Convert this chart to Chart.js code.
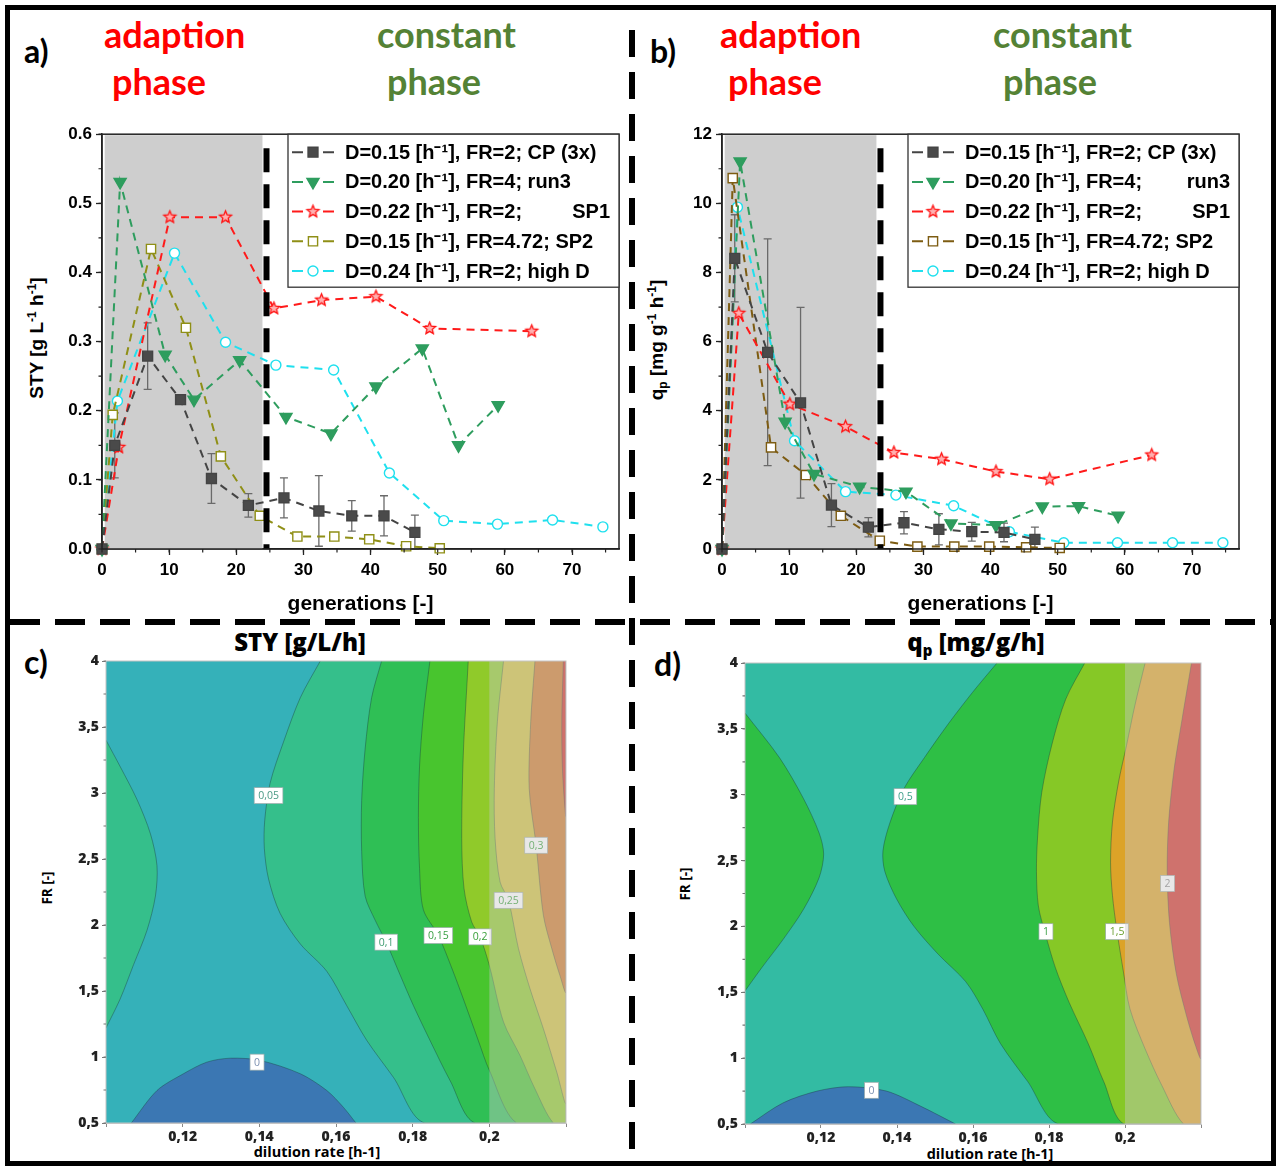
<!DOCTYPE html>
<html><head><meta charset="utf-8">
<script src="https://cdn.jsdelivr.net/npm/chart.js@4.4.1/dist/chart.umd.min.js"></script>
<style>
html,body{margin:0;padding:0;background:#fff}
body{width:1280px;height:1169px;position:relative;overflow:hidden}
.frame{position:absolute;left:5px;top:5px;width:1271px;height:1161px;border:5px solid #000;box-sizing:border-box}
.vdash{position:absolute;left:629px;top:30px;width:6px;height:1133px;background:repeating-linear-gradient(to bottom,#000 0 27px,transparent 27px 42px)}
.hdash{position:absolute;left:10px;top:619px;width:1262px;height:6px;background:repeating-linear-gradient(to right,#000 0 30px,transparent 30px 45px)}
.t{position:absolute;font-family:Lato,"Open Sans",sans-serif;font-weight:700;line-height:1;white-space:nowrap}
.red{color:#ff0000;font-size:36px}
.grn{color:#548235;font-size:36px}
.lab{color:#000;font-size:32px}
.rot{position:absolute;white-space:nowrap;transform:translate(-50%,-50%) rotate(-90deg);font-weight:700;line-height:1}
.ax{font-family:"Liberation Sans",Arial,sans-serif;font-size:19px;color:#000}
.ax sup{font-size:12px;vertical-align:7px}
.ax sub{font-size:12px;vertical-align:-4px}
.ct{position:absolute;font-family:"Open Sans",sans-serif;font-weight:800;font-size:24px;line-height:1;white-space:nowrap;transform:translateX(-50%)}
.ct sub{font-size:15px;vertical-align:-5px}
.cx{position:absolute;font-family:"Open Sans",sans-serif;font-weight:700;font-size:14.5px;line-height:1;white-space:nowrap;transform:translate(-50%,-50%)}
.cy{font-family:"Open Sans",sans-serif;font-size:13.5px}
canvas{position:absolute}
</style>
</head><body>
<div class="frame"></div>
<div class="vdash"></div>
<div class="hdash"></div>

<div class="t lab" style="left:24px;top:35px">a)</div>
<div class="t red" style="left:104px;top:16px">adaption</div>
<div class="t red" style="left:112px;top:63px">phase</div>
<div class="t grn" style="left:377px;top:16px">constant</div>
<div class="t grn" style="left:387px;top:63px">phase</div>

<div class="t lab" style="left:650px;top:35px">b)</div>
<div class="t red" style="left:720px;top:16px">adaption</div>
<div class="t red" style="left:728px;top:63px">phase</div>
<div class="t grn" style="left:993px;top:16px">constant</div>
<div class="t grn" style="left:1003px;top:63px">phase</div>

<div class="t lab" style="left:24px;top:646px">c)</div>
<div class="t lab" style="left:654px;top:648px">d)</div>

<div class="ct" style="left:300px;top:630px">STY [g/L/h]</div>
<div class="ct" style="left:976px;top:630px">q<sub>p</sub> [mg/g/h]</div>

<div class="rot ax" style="left:36px;top:338px">STY [g L<sup>-1</sup> h<sup>-1</sup>]</div>
<div class="rot ax" style="left:657px;top:340px">q<sub>p</sub> [mg g<sup>-1</sup> h<sup>-1</sup>]</div>

<div class="cx" style="left:317px;top:1152px">dilution rate [h-1]</div>
<div class="cx" style="left:990px;top:1154px">dilution rate [h-1]</div>
<div class="rot cy" style="left:48px;top:888px">FR [-]</div>
<div class="rot cy" style="left:686px;top:884px">FR [-]</div>

<canvas id="ca" width="640" height="500" style="left:0;top:120px"></canvas>
<canvas id="cb" width="640" height="500" style="left:620px;top:120px"></canvas>
<canvas id="cc" width="640" height="535" style="left:0;top:630px"></canvas>
<canvas id="cd" width="640" height="535" style="left:640px;top:630px"></canvas>

<script>
// ================= DATA: panels a) and b) =================
const genCP    = [0, 1.9, 6.8, 11.7, 16.3, 21.8, 27.1, 32.3, 37.2, 42.0, 46.6];
const genRun3  = [0, 2.7, 9.4, 13.7, 20.5, 27.4, 34.1, 40.8, 47.7, 53.1, 59.0];
const genSP1   = [0, 2.5, 10.1, 18.4, 25.6, 32.7, 40.8, 48.8, 64.0];
const genSP2   = [0, 1.6, 7.3, 12.5, 17.7, 23.5, 29.1, 34.6, 39.8, 45.3, 50.3];
const genHighD = [0, 2.3, 10.8, 18.4, 25.9, 34.5, 42.8, 50.9, 58.9, 67.1, 74.6];

const styCP    = [0, 0.150, 0.279, 0.216, 0.102, 0.063, 0.074, 0.055, 0.048, 0.048, 0.024];
const styCPsd  = [0, 0.047, 0.048, 0.004, 0.036, 0.017, 0.029, 0.051, 0.022, 0.029, 0.025];
const styRun3  = [0, 0.531, 0.281, 0.216, 0.273, 0.191, 0.167, 0.235, 0.290, 0.150, 0.208];
const stySP1   = [0, 0.147, 0.480, 0.480, 0.348, 0.360, 0.365, 0.319, 0.315];
const stySP2   = [0, 0.194, 0.434, 0.320, 0.134, 0.048, 0.018, 0.018, 0.014, 0.004, 0.001];
const styHighD = [0, 0.214, 0.428, 0.299, 0.266, 0.259, 0.110, 0.041, 0.036, 0.042, 0.032];

const qpCP     = [0, 8.41, 5.69, 4.23, 1.27, 0.63, 0.76, 0.57, 0.50, 0.48, 0.28];
const qpCPsd   = [0, 1.26, 3.28, 2.76, 0.62, 0.28, 0.32, 0.45, 0.27, 0.27, 0.35];
const qpRun3   = [0, 11.21, 3.68, 2.17, 1.80, 1.66, 0.74, 0.69, 1.23, 1.24, 0.96];
const qpSP1    = [0, 6.82, 4.19, 3.54, 2.79, 2.60, 2.24, 2.02, 2.72];
const qpSP2    = [0, 10.73, 2.94, 2.14, 0.96, 0.24, 0.07, 0.07, 0.07, 0.05, 0.03];
const qpHighD  = [0, 9.89, 3.13, 1.66, 1.56, 1.25, 0.50, 0.18, 0.18, 0.18, 0.18];

const legendA = [
  ['D=0.15 [h\u207B\u00B9], FR=2; CP (3x)', ''],
  ['D=0.20 [h\u207B\u00B9], FR=4; run3', ''],
  ['D=0.22 [h\u207B\u00B9], FR=2;', 'SP1'],
  ['D=0.15 [h\u207B\u00B9], FR=4.72; SP2', ''],
  ['D=0.24 [h\u207B\u00B9], FR=2; high D', '']
];
const legendB = [
  ['D=0.15 [h\u207B\u00B9], FR=2; CP (3x)', ''],
  ['D=0.20 [h\u207B\u00B9], FR=4;', 'run3'],
  ['D=0.22 [h\u207B\u00B9], FR=2;', 'SP1'],
  ['D=0.15 [h\u207B\u00B9], FR=4.72; SP2', ''],
  ['D=0.24 [h\u207B\u00B9], FR=2; high D', '']
];

// ================= DATA: contour panels c) and d) (D, FR) =================
const styC0   = [[0.1066,0.5],[0.1133,0.746],[0.1202,0.873],[0.1263,0.961],[0.1324,0.991],[0.1402,0.974],[0.1507,0.873],[0.1576,0.746],[0.1619,0.62],[0.1652,0.5]];
const styC05a = [[0.1,3.40],[0.1037,3.20],[0.1081,2.95],[0.1116,2.69],[0.1133,2.45],[0.1129,2.22],[0.1107,1.96],[0.1072,1.70],[0.1037,1.44],[0.1,1.22]];
const styC05b = [[0.1559,4.0],[0.1507,3.723],[0.1463,3.386],[0.1428,3.074],[0.1414,2.789],[0.1413,2.582],[0.1424,2.349],[0.1454,2.089],[0.1507,1.856],[0.1576,1.649],[0.1628,1.389],[0.1680,1.127],[0.1750,0.845],[0.1832,0.5]];
const styC10  = [[0.1719,4.0],[0.1693,3.723],[0.1676,3.334],[0.1667,2.945],[0.1667,2.556],[0.1676,2.219],[0.1702,2.037],[0.1731,1.869],[0.1767,1.623],[0.1802,1.389],[0.1845,1.127],[0.1898,0.819],[0.1963,0.5]];
const styC15  = [[0.1845,4.0],[0.1828,3.593],[0.1818,3.204],[0.1815,2.815],[0.1818,2.426],[0.1828,2.115],[0.1867,1.921],[0.1902,1.674],[0.1932,1.441],[0.1971,1.127],[0.2,0.899],[0.2071,0.5]];
const styC20  = [[0.1945,4.0],[0.1932,3.287],[0.1928,2.655],[0.1934,2.276],[0.1954,2.023],[0.1976,1.909],[0.2,1.694],[0.2037,1.265],[0.2080,1.012],[0.2119,0.759],[0.2167,0.5]];
const styC25  = [[0.2037,4.0],[0.2021,3.540],[0.2013,3.034],[0.2015,2.655],[0.2028,2.326],[0.2050,2.187],[0.2076,1.821],[0.2106,1.518],[0.2141,1.214],[0.2176,0.885],[0.22,0.658]];
const styC30  = [[0.2119,4.0],[0.2108,3.540],[0.2104,3.034],[0.2122,2.605],[0.2141,2.074],[0.2163,1.821],[0.2184,1.619],[0.22,1.492]];
const styC35  = [[0.2193,4.0],[0.2189,3.54],[0.2191,3.16],[0.22,2.83]];
const styLabels = [['0',0.1394,0.961],['0,05',0.1424,2.98],['0,1',0.1731,1.87],['0,15',0.1867,1.92],['0,2',0.1976,1.91],['0,25',0.2050,2.187],['0,3',0.2122,2.604]];

const qpC0   = [[0.1014,0.5],[0.110,0.66],[0.119,0.75],[0.1272,0.783],[0.1372,0.75],[0.1463,0.634],[0.1554,0.5]];
const qpC05a = [[0.1,3.62],[0.1091,3.28],[0.1154,2.97],[0.1195,2.71],[0.1207,2.55],[0.1195,2.37],[0.1154,2.13],[0.1100,1.90],[0.1045,1.69],[0.1,1.51]];
const qpC05b = [[0.1663,4.0],[0.1599,3.778],[0.1536,3.542],[0.1472,3.281],[0.1418,3.045],[0.1381,2.784],[0.1363,2.574],[0.1368,2.417],[0.1399,2.208],[0.1445,1.999],[0.1508,1.790],[0.1581,1.580],[0.1626,1.371],[0.1672,1.112],[0.1744,0.822],[0.1826,0.5]];
const qpC10  = [[0.1894,4.0],[0.1844,3.725],[0.1808,3.385],[0.1781,3.019],[0.1770,2.679],[0.1767,2.417],[0.1772,2.156],[0.1790,1.947],[0.1817,1.685],[0.1853,1.423],[0.1903,1.112],[0.1944,0.822],[0.1998,0.5]];
const qpC15  = [[0.2053,4.0],[0.2026,3.678],[0.2004,3.374],[0.1983,3.096],[0.1967,2.792],[0.1962,2.488],[0.1967,2.235],[0.1978,1.982],[0.1996,1.653],[0.2013,1.374],[0.2053,1.070],[0.2097,0.792],[0.2154,0.5]];
const qpC20  = [[0.2175,4.0],[0.2150,3.57],[0.2129,3.19],[0.2115,2.80],[0.2111,2.42],[0.2117,2.03],[0.2135,1.64],[0.2162,1.32],[0.2185,1.1],[0.22,1.0]];
const qpLabels = [['0',0.1333,0.756],['0,5',0.1422,2.985],['1',0.1792,1.96],['1,5',0.1979,1.96],['2',0.2112,2.326]];

// ================= helpers =================
Chart.defaults.animation = false;
Chart.defaults.events = [];
const H = Chart.helpers;

function makeStar(r, fill, stroke) {
  const s = Math.ceil(r * 2 + 4), c = document.createElement('canvas');
  c.width = c.height = s;
  const g = c.getContext('2d');
  g.beginPath();
  for (let i = 0; i < 10; i++) {
    const a = -Math.PI / 2 + i * Math.PI / 5, rr = i % 2 ? r * 0.45 : r;
    g.lineTo(s / 2 + rr * Math.cos(a), s / 2 + rr * Math.sin(a));
  }
  g.closePath(); g.fillStyle = fill; g.fill();
  g.strokeStyle = stroke; g.lineWidth = 1.3; g.stroke();
  return c;
}
const starImg = makeStar(6.3, '#ffb0b0', '#ff1010');

function seriesDS(xs, ys, color, ptStyle, ptRadius, ptFill, extra) {
  return Object.assign({
    data: xs.map((x, i) => ({x, y: ys[i]})),
    borderColor: color, borderWidth: 2, borderDash: [8, 6],
    pointStyle: ptStyle, pointRadius: ptRadius, pointBackgroundColor: ptFill,
    pointBorderColor: color, pointBorderWidth: 1.4, clip: false, tension: 0
  }, extra || {});
}

function minor(ctx, scale, step, len, color, horiz) {
  const a = scale.chart.chartArea;
  ctx.save(); ctx.strokeStyle = color; ctx.lineWidth = 1.2; ctx.beginPath();
  const n = Math.round((scale.max - scale.min) / step);
  for (let k = 0; k <= n; k++) {
    const p = scale.getPixelForValue(scale.min + k * step);
    if (horiz) { ctx.moveTo(p, a.bottom); ctx.lineTo(p, a.bottom + len); }
    else { ctx.moveTo(a.left, p); ctx.lineTo(a.left - len, p); }
  }
  ctx.stroke(); ctx.restore();
}

const decoAB = {
  id: 'decoAB',
  beforeDatasetsDraw(chart, args, o) {
    const {ctx, chartArea: a, scales: {x, y}} = chart;
    ctx.save();
    ctx.fillStyle = '#cecece';
    const x0 = x.getPixelForValue(o.shade[0]), x1 = x.getPixelForValue(o.shade[1]);
    ctx.fillRect(x0, a.top + 1, x1 - x0, a.bottom - a.top - 1);
    chart.data.datasets.forEach(ds => {
      if (!ds.sd) return;
      ctx.strokeStyle = '#6a6a6a'; ctx.lineWidth = 1.3;
      ds.data.forEach((p, j) => {
        const s = ds.sd[j]; if (!s) return;
        const px = x.getPixelForValue(p.x);
        const t = y.getPixelForValue(p.y + s), b = y.getPixelForValue(Math.max(0, p.y - s));
        ctx.beginPath();
        ctx.moveTo(px, t); ctx.lineTo(px, b);
        ctx.moveTo(px - 4, t); ctx.lineTo(px + 4, t);
        ctx.moveTo(px - 4, b); ctx.lineTo(px + 4, b);
        ctx.stroke();
      });
    });
    ctx.restore();
  },
  afterDatasetsDraw(chart, args, o) {
    const {ctx, chartArea: a, scales: {x, y}} = chart;
    ctx.save();
    const px = x.getPixelForValue(o.phase);
    ctx.strokeStyle = '#000'; ctx.lineWidth = 6; ctx.setLineDash([24, 12]);
    ctx.beginPath(); ctx.moveTo(px, a.top + 14); ctx.lineTo(px, a.bottom); ctx.stroke();
    ctx.setLineDash([]);
    ctx.strokeStyle = '#222'; ctx.lineWidth = 1.5;
    ctx.strokeRect(a.left, a.top, a.right - a.left, a.bottom - a.top);
    minor(ctx, x, o.minorX, 3.5, '#222', true);
    minor(ctx, y, o.minorY, 3.5, '#222', false);
    const L = o.legend, bx = a.right - L.w, by = a.top;
    ctx.fillStyle = '#fff'; ctx.fillRect(bx, by, L.w, L.h);
    ctx.strokeStyle = '#333'; ctx.lineWidth = 1.3; ctx.strokeRect(bx, by, L.w, L.h);
    chart.data.datasets.forEach((ds, i) => {
      const cy = by + 18 + i * 29.7;
      ctx.strokeStyle = ds.borderColor; ctx.lineWidth = 2;
      ctx.beginPath(); ctx.moveTo(bx + 4, cy); ctx.lineTo(bx + 15, cy);
      ctx.moveTo(bx + 35, cy); ctx.lineTo(bx + 46, cy); ctx.stroke();
      ctx.fillStyle = ds.pointBackgroundColor; ctx.strokeStyle = ds.pointBorderColor; ctx.lineWidth = ds.pointBorderWidth;
      H.drawPoint(ctx, {pointStyle: ds.pointStyle, rotation: ds.pointRotation || 0, radius: ds.pointRadius, borderWidth: ds.pointBorderWidth}, bx + 25, cy);
      ctx.fillStyle = '#000'; ctx.font = 'bold 20px "Liberation Sans", Arial, sans-serif';
      ctx.textBaseline = 'middle'; ctx.textAlign = 'left';
      ctx.fillText(L.items[i][0], bx + 57, cy + 1);
      if (L.items[i][1]) { ctx.textAlign = 'right'; ctx.fillText(L.items[i][1], bx + L.w - 9, cy + 1); }
    });
    ctx.restore();
  }
};

function topChart(id, sets, ymax, ystep, ydec, phase, legendItems) {
  const tickFont = {family: '"Liberation Sans", Arial, sans-serif', size: 17, weight: 'bold'};
  return new Chart(document.getElementById(id), {
    type: 'line',
    data: {datasets: sets},
    plugins: [decoAB],
    options: {
      responsive: false, maintainAspectRatio: false,
      layout: {padding: {left: 0, top: 14, right: 21, bottom: 0}},
      plugins: {
        legend: {display: false}, tooltip: {enabled: false},
        decoAB: {shade: [0.4, phase - 0.6], phase, minorX: 5, minorY: ystep / 2,
                 legend: {items: legendItems, w: 331, h: 153}}
      },
      scales: {
        x: {
          type: 'linear', min: 0, max: 77,
          afterFit: s => { s.height = 71; },
          ticks: {stepSize: 10, includeBounds: false, color: '#000', font: tickFont, padding: 5, maxRotation: 0},
          grid: {display: true, drawOnChartArea: false, drawTicks: true, tickLength: 6, tickColor: '#222', tickWidth: 1.3},
          border: {display: true, color: '#222', width: 1.5},
          title: {display: true, text: 'generations [-]', color: '#000',
                  font: {family: '"Liberation Sans", Arial, sans-serif', size: 21, weight: 'bold'}, padding: {top: 0, bottom: 3}}
        },
        y: {
          type: 'linear', min: 0, max: ymax,
          afterFit: s => { s.width = 102; },
          ticks: {stepSize: ystep, color: '#000', font: tickFont, padding: 4, callback: v => Number(v).toFixed(ydec)},
          grid: {display: true, drawOnChartArea: false, drawTicks: true, tickLength: 6, tickColor: '#222', tickWidth: 1.3},
          border: {display: true, color: '#222', width: 1.5}
        }
      }
    }
  });
}

const setsA = [
  seriesDS(genCP, styCP, '#444444', 'rect', 7, '#4a4a4a', {sd: styCPsd}),
  seriesDS(genRun3, styRun3, '#2e9d5e', 'triangle', 7, '#2e9d5e', {pointRotation: 180}),
  seriesDS(genSP1, stySP1, '#ff1a1a', starImg, 6, '#ffb0b0'),
  seriesDS(genSP2, stySP2, '#8f8f16', 'rect', 6.5, '#ffffff'),
  seriesDS(genHighD, styHighD, '#1fe0ee', 'circle', 5, '#ffffff')
];
const setsB = [
  seriesDS(genCP, qpCP, '#444444', 'rect', 7, '#4a4a4a', {sd: qpCPsd}),
  seriesDS(genRun3, qpRun3, '#2e9d5e', 'triangle', 7, '#2e9d5e', {pointRotation: 180}),
  seriesDS(genSP1, qpSP1, '#ff1a1a', starImg, 6, '#ffb0b0'),
  seriesDS(genSP2, qpSP2, '#7d5c12', 'rect', 6.5, '#ffffff'),
  seriesDS(genHighD, qpHighD, '#1fe0ee', 'circle', 5, '#ffffff')
];
topChart('ca', setsA, 0.6, 0.1, 1, 24.5, legendA);
topChart('cb', setsB, 12, 2, 0, 23.6, legendB);

// ================= contour charts =================
function regionPts(curve, toRight) {
  const pts = curve.map(([x, y]) => ({x, y}));
  if (toRight) {
    const last = curve[curve.length - 1];
    if (last[0] < 0.22 - 1e-6) pts.push({x: 0.22, y: last[1]});
    pts.push({x: 0.22, y: 4});
  }
  return pts;
}
const comma = v => String(parseFloat(Number(v).toFixed(3))).replace('.', ',');

const decoC = {
  id: 'decoC',
  beforeDatasetsDraw(chart, args, o) {
    const {ctx, chartArea: a} = chart;
    ctx.save(); ctx.fillStyle = o.base; ctx.fillRect(a.left, a.top, a.right - a.left, a.bottom - a.top); ctx.restore();
  },
  afterDatasetsDraw(chart, args, o) {
    const {ctx, chartArea: a, scales: {x, y}} = chart;
    ctx.save();
    ctx.font = '10.5px "Open Sans", sans-serif'; ctx.textAlign = 'center'; ctx.textBaseline = 'middle';
    o.labels.forEach((l, i) => {
      const px = x.getPixelForValue(l[1]), py = y.getPixelForValue(l[2]);
      const w = ctx.measureText(l[0]).width + 8, h = 16;
      ctx.fillStyle = '#fff'; ctx.fillRect(px - w / 2, py - h / 2, w, h);
      ctx.strokeStyle = '#9aa'; ctx.lineWidth = 0.7; ctx.strokeRect(px - w / 2, py - h / 2, w, h);
      ctx.fillStyle = o.labelColors[i]; ctx.fillText(l[0], px, py + 0.5);
    });
    const x0 = x.getPixelForValue(0.2);
    ctx.fillStyle = 'rgba(200,200,200,0.42)';
    ctx.fillRect(x0, a.top, a.right - x0, a.bottom - a.top);
    ctx.strokeStyle = '#c4c4c4'; ctx.lineWidth = 1;
    ctx.strokeRect(a.left, a.top, a.right - a.left, a.bottom - a.top);
    minor(ctx, y, 0.25, 2.5, '#777', false);
    ctx.restore();
  }
};

function contourChart(id, layers, base, labels, labelColors, padRight, yw, xh, padTop) {
  const n = layers.length;
  const datasets = layers.map((L, i) => ({
    data: regionPts(L.curve, L.toRight),
    fill: 'shape', backgroundColor: L.color,
    borderColor: 'rgba(25,60,60,0.5)', borderWidth: 0.8,
    pointRadius: 0, tension: 0.3, order: n - i
  }));
  const tickFont = {family: '"Open Sans", sans-serif', size: 14, weight: '800'};
  return new Chart(document.getElementById(id), {
    type: 'line',
    data: {datasets},
    plugins: [decoC],
    options: {
      responsive: false, maintainAspectRatio: false,
      layout: {padding: {left: 0, top: padTop, right: padRight, bottom: 0}},
      plugins: {legend: {display: false}, tooltip: {enabled: false},
                decoC: {base, labels, labelColors}},
      scales: {
        x: {
          type: 'linear', min: 0.1, max: 0.22,
          afterFit: s => { s.height = xh; },
          ticks: {stepSize: 0.02, color: '#222', font: tickFont, padding: 2, maxRotation: 0,
                  callback: v => (v > 0.105 && v < 0.215) ? comma(v) : ''},
          grid: {display: true, drawOnChartArea: false, drawTicks: true, tickLength: 4, tickColor: '#888'},
          border: {display: true, color: '#c4c4c4', width: 1}
        },
        y: {
          type: 'linear', min: 0.5, max: 4,
          afterFit: s => { s.width = yw; },
          ticks: {stepSize: 0.5, color: '#222', font: tickFont, padding: 3, callback: v => comma(v)},
          grid: {display: true, drawOnChartArea: false, drawTicks: true, tickLength: 4, tickColor: '#777'},
          border: {display: true, color: '#c4c4c4', width: 1}
        }
      }
    }
  });
}

contourChart('cc', [
  {curve: styC0,   toRight: false, color: '#3b77b3'},
  {curve: styC05a, toRight: false, color: '#35bf8b'},
  {curve: styC05b, toRight: true,  color: '#35bf8b'},
  {curve: styC10,  toRight: true,  color: '#2fbf55'},
  {curve: styC15,  toRight: true,  color: '#48c52e'},
  {curve: styC20,  toRight: true,  color: '#90ca2a'},
  {curve: styC25,  toRight: true,  color: '#d0c13f'},
  {curve: styC30,  toRight: true,  color: '#cf7b2b'},
  {curve: styC35,  toRight: true,  color: '#d53228'}
], '#35b1b9', styLabels, ['#7a8fb0', '#4b9a86', '#3c9a6e', '#3aa044', '#3aa03a', '#3aa03a', '#3aa03a'], 74, 106, 42, 31);

contourChart('cd', [
  {curve: qpC0,   toRight: false, color: '#3b77b3'},
  {curve: qpC05a, toRight: false, color: '#2ebf45'},
  {curve: qpC05b, toRight: true,  color: '#2ebf45'},
  {curve: qpC10,  toRight: true,  color: '#86c826'},
  {curve: qpC15,  toRight: true,  color: '#dca328'},
  {curve: qpC20,  toRight: true,  color: '#d5352b'}
], '#33bba3', qpLabels, ['#7a8fb0', '#3f9f8a', '#3aa044', '#6aa030', '#888'], 79, 105, 41, 33);
</script>
</body></html>
